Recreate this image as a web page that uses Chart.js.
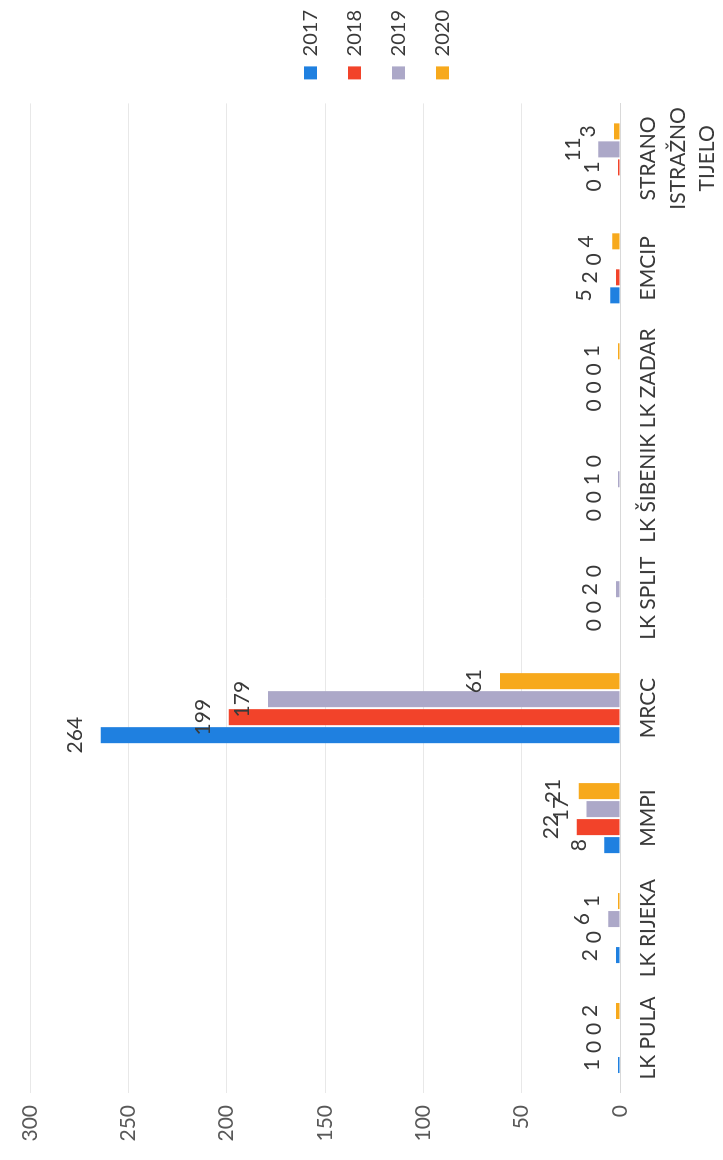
<!DOCTYPE html>
<html>
<head>
<meta charset="utf-8">
<script src="https://cdn.jsdelivr.net/npm/chart.js@4"></script>
<style>
html,body{margin:0;padding:0;background:#fff;overflow:hidden;}
body{width:723px;height:1160px;position:relative;}
/* the reference is the chart turned a quarter turn to the left */
#wrap{position:absolute;left:0;top:1160px;width:1160px;height:723px;transform-origin:0 0;transform:rotate(-90deg);}
</style>
</head>
<body>
<div id="wrap"><canvas id="c" width="1160" height="723"></canvas></div>
<script>
const categories = ['LK PULA','LK RIJEKA','MMPI','MRCC','LK SPLIT','LK ŠIBENIK','LK ZADAR','EMCIP',['STRANO','ISTRAŽNO','TIJELO']];
const years = ['2017','2018','2019','2020'];
const v2017 = [1, 2, 8, 264, 0, 0, 0, 5, 0];
const v2018 = [0, 0, 22, 199, 0, 0, 0, 2, 1];
const v2019 = [0, 6, 17, 179, 2, 1, 0, 0, 11];
const v2020 = [2, 1, 21, 61, 0, 0, 1, 4, 3];
const yTicks = [0, 50, 100, 150, 200, 250, 300];

const colors = ['#1f80e0','#f2432a','#aca8c8','#f7a91c'];
const FONT = 'Lato, "Open Sans", sans-serif';

const valueLabels = {
  id:'valueLabels',
  afterDatasetsDraw(chart){
    const ctx = chart.ctx;
    ctx.save();
    ctx.font = '21px ' + FONT;
    ctx.fillStyle = '#3a3a3a';
    ctx.textAlign = 'center';
    ctx.textBaseline = 'bottom';
    chart.data.datasets.forEach((ds, i) => {
      chart.getDatasetMeta(i).data.forEach((bar, j) => {
        ctx.fillText(String(ds.data[j]), bar.x, bar.y - 15);
      });
    });
    ctx.restore();
  }
};

new Chart(document.getElementById('c'), {
  type:'bar',
  data:{
    labels: categories,
    datasets: [v2017, v2018, v2019, v2020].map((d, i) => ({
      label: years[i], data: d, backgroundColor: colors[i], borderWidth: 0,
      categoryPercentage: 0.655, barPercentage: 0.89
    }))
  },
  options:{
    responsive:false,
    animation:false,
    devicePixelRatio:1,
    layout:{ padding:{ top:30, right:0, bottom:0, left:0 } },
    plugins:{
      legend:{
        position:'right',
        labels:{ boxWidth:13, boxHeight:13, padding:24, color:'#3a3a3a', font:{ family:FONT, size:20 } }
      },
      tooltip:{ enabled:false }
    },
    scales:{
      x:{
        grid:{ display:false },
        border:{ color:'#d9d9d9' },
        ticks:{ color:'#3a3a3a', padding:6, maxRotation:0, autoSkip:false, font:{ family:FONT, size:21, lineHeight:1.4 } },
        afterFit(s){ s.height = 103; }
      },
      y:{
        min:0, max:300,
        afterBuildTicks(s){ s.ticks = yTicks.map(v => ({ value:v })); },
        grid:{ color:'#e8e8e8', drawTicks:false },
        border:{ display:false },
        ticks:{ color:'#595959', padding:12, font:{ family:FONT, size:21 } },
        afterFit(s){ s.width = 67; }
      }
    }
  },
  plugins:[valueLabels]
});
</script>
</body>
</html>
